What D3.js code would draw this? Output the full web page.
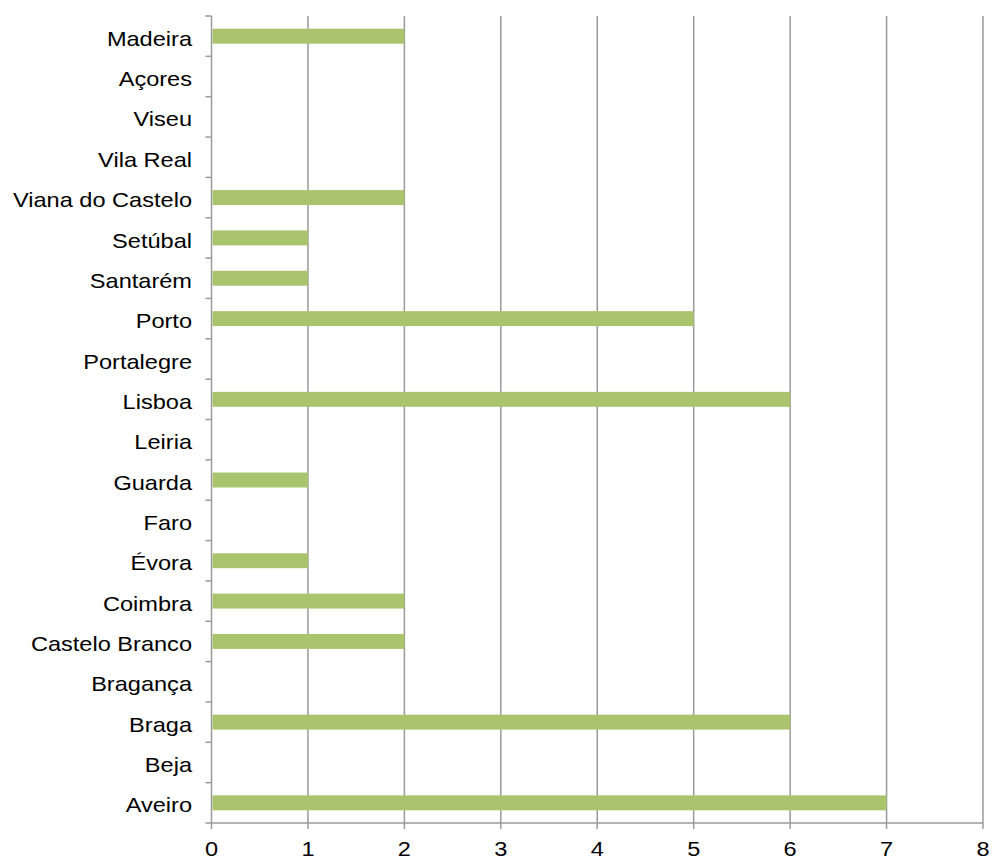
<!DOCTYPE html>
<html>
<head>
<meta charset="utf-8">
<script src="https://cdn.jsdelivr.net/npm/d3@7"></script>
<style>
  body { margin: 0; background: #fff; }
  text { font-family: "Liberation Sans", Arial, Helvetica, sans-serif; fill: #000; }
</style>
</head>
<body>
<div id="chart"></div>
<script>
// districts listed top to bottom as in the picture
const districts = ["Madeira", "Açores", "Viseu", "Vila Real", "Viana do Castelo", "Setúbal",
    "Santarém", "Porto", "Portalegre", "Lisboa", "Leiria", "Guarda", "Faro", "Évora",
    "Coimbra", "Castelo Branco", "Bragança", "Braga", "Beja", "Aveiro"];
const counts = [2, 0, 0, 0, 2, 1, 1, 5, 0, 6, 0, 1, 0, 1, 2, 2, 0, 6, 0, 7];
const xTicks = [0, 1, 2, 3, 4, 5, 6, 7, 8];

const data = districts.map((d, i) => ({ name: d, value: counts[i] }));

// dimensions
const margin = { top: 16, right: 9, bottom: 39, left: 211.5 },
    width = 992 - margin.left - margin.right,
    height = 862 - margin.top - margin.bottom;

const stretch = 1.15; // glyphs in the picture are a bit wider than tall
const fontSize = 20.5;
const lineColor = "#9a9a9a";

const svg = d3.select("#chart")
    .append("svg")
    .attr("width", width + margin.left + margin.right)
    .attr("height", height + margin.top + margin.bottom)
    .append("g")
    .attr("transform", "translate(" + margin.left + "," + margin.top + ")");

const x = d3.scaleLinear()
    .domain([0, 8])
    .range([0, width]);

const y = d3.scaleBand()
    .domain(districts)
    .range([0, height])
    .paddingInner(0.63)
    .paddingOuter(0.315);

// band boundaries for the category ticks
const yEdge = d3.scaleLinear()
    .domain([0, districts.length])
    .range([0, height]);

// vertical grid lines (with tick stubs below the axis)
svg.append("g")
    .selectAll("line")
    .data(xTicks)
    .enter()
    .append("line")
    .attr("x1", d => x(d))
    .attr("x2", d => x(d))
    .attr("y1", 0)
    .attr("y2", height + 6)
    .style("stroke", lineColor)
    .style("stroke-width", 1.5);

// bottom axis line
svg.append("line")
    .attr("x1", 0)
    .attr("x2", width)
    .attr("y1", height)
    .attr("y2", height)
    .style("stroke", lineColor)
    .style("stroke-width", 1.5);

// left tick marks between categories
svg.append("g")
    .selectAll("line")
    .data(d3.range(districts.length + 1))
    .enter()
    .append("line")
    .attr("x1", -6)
    .attr("x2", 0)
    .attr("y1", d => yEdge(d))
    .attr("y2", d => yEdge(d))
    .style("stroke", lineColor)
    .style("stroke-width", 1.5);

// bars
svg.append("g")
    .selectAll("rect")
    .data(data.filter(d => d.value > 0))
    .enter()
    .append("rect")
    .attr("x", x(0) + 1)
    .attr("y", d => y(d.name))
    .attr("width", d => x(d.value) - x(0) - 1)
    .attr("height", y.bandwidth())
    .style("fill", "#a9c46c");

// category labels
svg.append("g")
    .selectAll("text")
    .data(districts)
    .enter()
    .append("text")
    .text(d => d)
    .attr("text-anchor", "end")
    .attr("font-size", fontSize)
    .attr("transform", d => "translate(-19.5," + (y(d) + y.bandwidth() / 2 + 9.6) + ") scale(" + stretch + ",1)");

// x tick labels
svg.append("g")
    .selectAll("text")
    .data(xTicks)
    .enter()
    .append("text")
    .text(d => d)
    .attr("text-anchor", "middle")
    .attr("font-size", fontSize)
    .attr("transform", d => "translate(" + x(d) + "," + (height + 33) + ") scale(" + stretch + ",1)");
</script>
</body>
</html>
